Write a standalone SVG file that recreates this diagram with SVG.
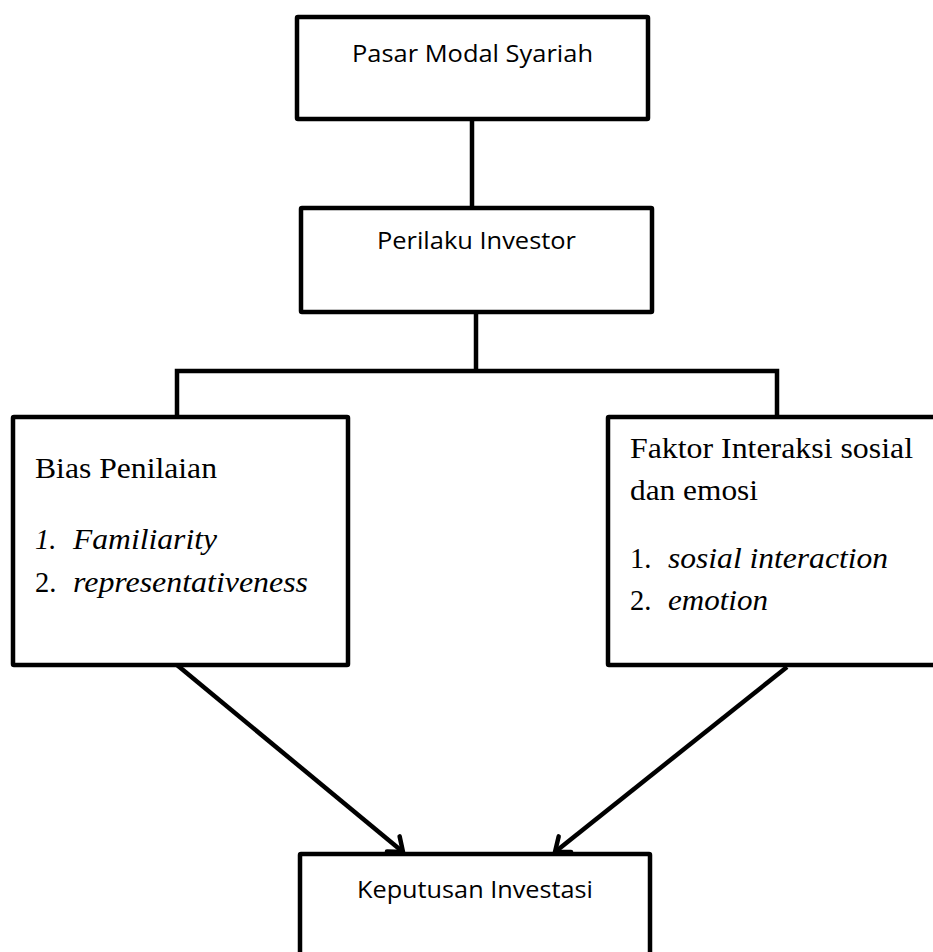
<svg xmlns="http://www.w3.org/2000/svg" width="933" height="952" viewBox="0 0 933 952">
  <style>
    .box { fill: #ffffff; stroke: #000000; stroke-width: 4.5; }
    .conn { fill: none; stroke: #000000; stroke-width: 4.5; }
    .sans { font-family: "Open Sans", "Noto Sans", sans-serif; font-size: 24px; fill: #000000; }
    .serif { font-family: "Liberation Serif", "Times New Roman", serif; font-size: 28.5px; fill: #000000; }
    .it { font-style: italic; }
  </style>
  <defs>
    <marker id="arr" markerUnits="userSpaceOnUse" markerWidth="40" markerHeight="40" viewBox="-20 -20 40 40" refX="0" refY="0" orient="auto" overflow="visible">
      <path d="M-12.6,-9.9 L0,0 L-12.6,9.9" fill="none" stroke="#000000" stroke-width="4.5" stroke-linecap="round" stroke-linejoin="round"/>
    </marker>
  </defs>
  <rect width="933" height="952" fill="#ffffff"/>

  <g id="connectors">
    <path class="conn" d="M472,119 V208"/>
    <path class="conn" d="M476,312 V371"/>
    <path class="conn" d="M177,417 V371 H777 V417"/>
    <path class="conn" d="M177,665 L403,852" marker-end="url(#arr)"/>
    <path class="conn" d="M787,667 L555,852" marker-end="url(#arr)"/>
  </g>

  <g id="pasar-modal-syariah">
    <rect class="box" x="297" y="17" width="351" height="102" rx="1"/>
    <text class="sans" x="352" y="62" textLength="241" lengthAdjust="spacingAndGlyphs">Pasar Modal Syariah</text>
  </g>

  <g id="perilaku-investor">
    <rect class="box" x="301" y="208" width="351" height="104" rx="1"/>
    <text class="sans" x="377" y="249" textLength="199" lengthAdjust="spacingAndGlyphs">Perilaku Investor</text>
  </g>

  <g id="bias-penilaian">
    <rect class="box" x="13" y="417" width="335" height="248" rx="1"/>
    <text class="serif" x="35" y="478" textLength="182" lengthAdjust="spacingAndGlyphs">Bias Penilaian</text>
    <text class="serif it" x="35" y="549">1.</text>
    <text class="serif it" x="73" y="549" textLength="144" lengthAdjust="spacingAndGlyphs">Familiarity</text>
    <text class="serif" x="35" y="592">2.</text>
    <text class="serif it" x="73" y="592" textLength="235" lengthAdjust="spacingAndGlyphs">representativeness</text>
  </g>

  <g id="faktor-interaksi">
    <rect class="box" x="608" y="417" width="340" height="248" rx="1"/>
    <text class="serif" x="630" y="458" textLength="283" lengthAdjust="spacingAndGlyphs">Faktor Interaksi sosial</text>
    <text class="serif" x="630" y="500" textLength="128" lengthAdjust="spacingAndGlyphs">dan emosi</text>
    <text class="serif" x="630" y="568">1.</text>
    <text class="serif it" x="668" y="568" textLength="220" lengthAdjust="spacingAndGlyphs">sosial interaction</text>
    <text class="serif" x="630" y="610">2.</text>
    <text class="serif it" x="668" y="610" textLength="100" lengthAdjust="spacingAndGlyphs">emotion</text>
  </g>

  <g id="keputusan-investasi">
    <rect class="box" x="300" y="854" width="350" height="130" rx="1"/>
    <text class="sans" x="357" y="898" textLength="236" lengthAdjust="spacingAndGlyphs">Keputusan Investasi</text>
  </g>
</svg>
